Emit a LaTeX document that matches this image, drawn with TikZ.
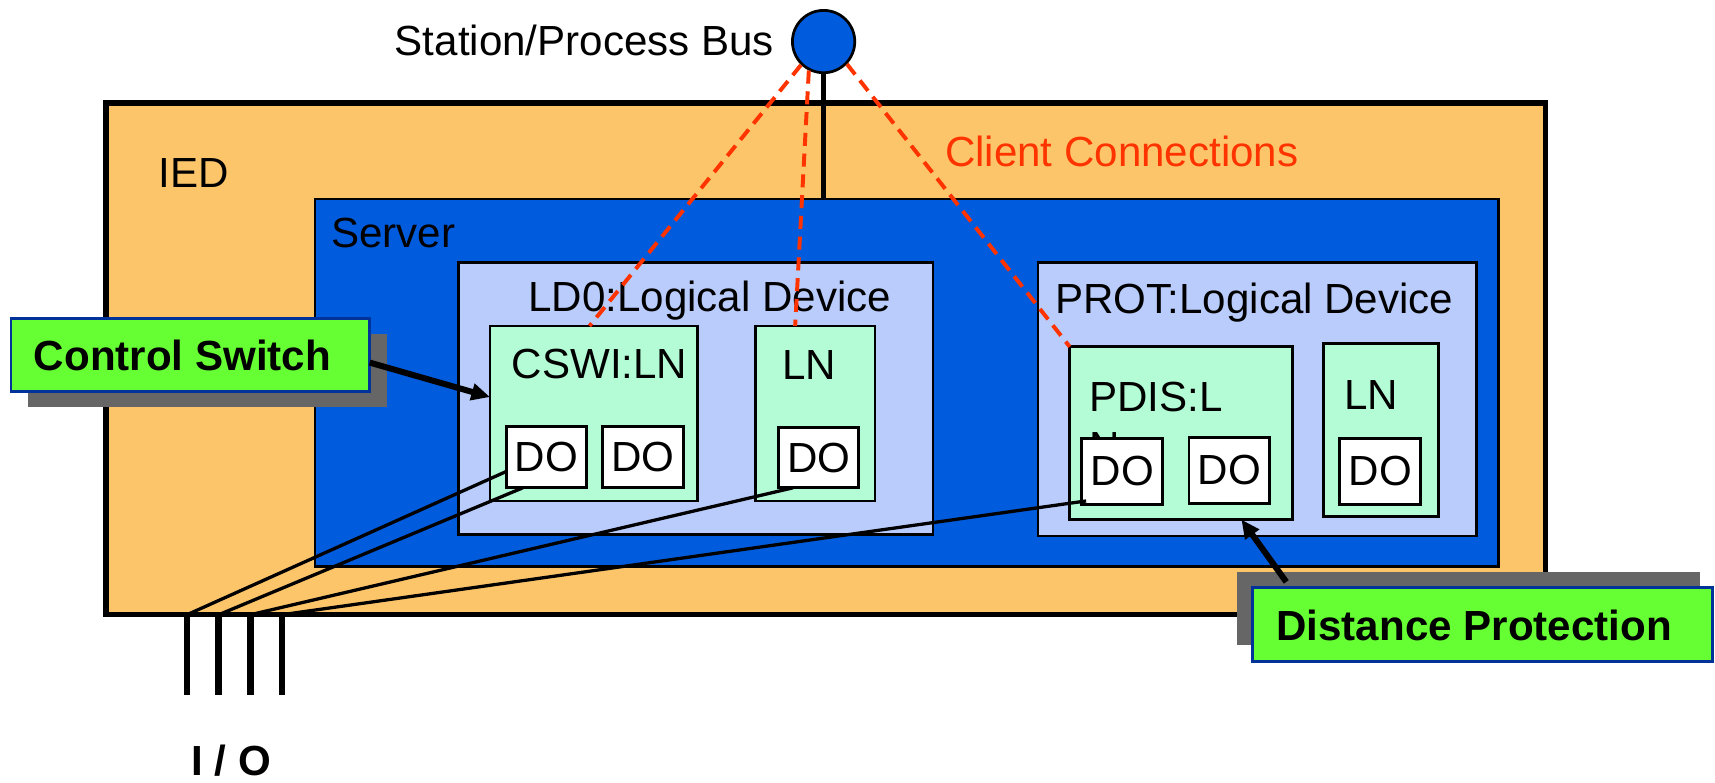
\documentclass[tikz,border=0pt]{standalone}
\usepackage{fontspec}
\setmainfont{Liberation Sans}
\usetikzlibrary{calc,arrows.meta}
\definecolor{iedfill}{RGB}{253,197,106}
\definecolor{srvblue}{RGB}{0,91,221}
\definecolor{ldfill}{RGB}{185,204,251}
\definecolor{lnfill}{RGB}{179,252,214}
\definecolor{callgreen}{RGB}{102,255,51}
\definecolor{callborder}{RGB}{0,51,153}
\definecolor{shadowgray}{RGB}{102,102,102}
\definecolor{clientred}{RGB}{255,51,0}
\begin{document}
\begin{tikzpicture}[x=1pt,y=-1pt,
  font=\fontsize{38.5}{46}\selectfont,
  box/.style={draw=black, line width=2.5pt, inner sep=0pt, outer sep=0pt, anchor=north west},
  iedbox/.style={box, fill=iedfill, line width=5pt},
  srvbox/.style={box, fill=srvblue},
  ldbox/.style={box, fill=ldfill},
  lnbox/.style={box, fill=lnfill},
  dobox/.style={box, fill=white},
  lbl/.style={anchor=base west, inner sep=0pt, outer sep=0pt},
  boldlbl/.style={lbl, font=\fontsize{38.5}{46}\selectfont\bfseries},
  callbox/.style={box, fill=callgreen, draw=callborder, line width=2.5pt},
  shadowbox/.style={box, fill=shadowgray, draw=none},
  pinline/.style={line width=6pt},
  wire/.style={line width=3pt},
  client/.style={draw=clientred, line width=3.6pt, dash pattern=on 12pt off 7pt},
  pointer/.style={line width=5.5pt, -{Triangle[length=17pt,width=15pt]}}
]
\useasboundingbox (0,0) rectangle (1568,715);

% IED
\node[iedbox, minimum width=1316pt, minimum height=468pt] (ied) at (97,94) {};
\node[lbl] (iedlbl) at (145,171) {IED};

% Server
\node[srvbox, minimum width=1082pt, minimum height=336pt] (srv) at (288,182) {};
\node[lbl] (srvlbl) at (303,226) {Server};

% LD0
\node[ldbox, minimum width=434pt, minimum height=249pt] (ld0) at (419,240) {};
\node[lbl] (ld0lbl) at (483,285) {LD0:Logical Device};
\node[lnbox, minimum width=190pt, minimum height=160pt] (cswi) at (448,298) {};
\node[lbl] (cswilbl) at (468,346) {CSWI:LN};
\node[dobox, minimum width=73pt, minimum height=56pt] (do1) at (463,390) {DO};
\node[dobox, minimum width=74pt, minimum height=56pt] (do2) at (551,390) {DO};
\node[lnbox, minimum width=109pt, minimum height=160pt] (ln1) at (691,298) {};
\node[lbl] (ln1lbl) at (715,347) {LN};
\node[dobox, minimum width=73pt, minimum height=55pt] (ldo) at (712,391) {DO};

% PROT
\node[ldbox, minimum width=401pt, minimum height=250pt] (prot) at (949,240) {};
\node[lbl] (protlbl) at (965,287) {PROT:Logical Device};
\node[lnbox, minimum width=204pt, minimum height=158pt] (pdis) at (978,317) {};
\node[lbl] (pdislbl) at (996,376) {PDIS:L};
\node[lbl] (pdislbl2) at (996,422) {N};
\node[dobox, minimum width=74pt, minimum height=60pt] (pdo1) at (989,401) {DO};
\node[dobox, minimum width=74pt, minimum height=60pt] (pdo2) at (1087,400) {DO};
\node[lnbox, minimum width=105pt, minimum height=158pt] (ln2) at (1210,314) {};
\node[lbl] (ln2lbl) at (1229,374) {LN};
\node[dobox, minimum width=74pt, minimum height=60pt] (ln2do) at (1225,401) {DO};

% bus
\node[circle, draw=black, line width=2.5pt, fill=srvblue, minimum size=57pt, inner sep=0pt] (bus) at (753,38) {};
\node[lbl] (buslbl) at (361,51) {Station/Process Bus};
\draw[line width=5pt] (bus.south) -- (bus.south |- srv.north);

% I/O pins
\coordinate (p1) at (171,562);
\coordinate (p2) at (200,562);
\coordinate (p3) at (229,562);
\coordinate (p4) at (258,562);
\foreach \p in {p1,p2,p3,p4} \draw[pinline] (\p) -- ++(0,73);
\node[boldlbl] (iolbl) at (175,709) {I / O};

% wires
\draw[wire] ($(do1.south west)+(0,-15)$) -- (p1);
\draw[wire] ($(do1.south west)+(15,0)$) -- (p2);
\draw[wire] ($(ldo.south west)+(13,0)$) -- (p3);
\draw[wire] ($(pdo1.south west)+(4,-3)$) -- (p4);

% client connections
\draw[client] (bus.226) -- ($(cswi.north west)+(91,0)$);
\draw[client] (bus.243) -- ($(ln1.north west)+(36,0)$);
\draw[client] (bus.316) -- (pdis.north west);
\node[lbl, text=clientred] (clbl) at (864,152) {Client Connections};

% callouts
\node[shadowbox, minimum width=328pt, minimum height=67pt] (cssh) at (26,305) {};
\node[callbox, minimum width=328pt, minimum height=67pt] (cs) at (10,291) {};
\node[boldlbl] (cslbl) at (31,339) {Control Switch};
\draw[pointer] ($(cs.east)+(0,7)$) -- ($(cswi.west)+(0,-15)$);

\node[shadowbox, minimum width=423pt, minimum height=67pt] (dpsh) at (1131,523) {};
\node[callbox, minimum width=421pt, minimum height=68pt] (dp) at (1145,537) {};
\node[boldlbl] (dplbl) at (1167,586) {Distance Protection};
\draw[pointer] ($(dp.north west)+(31,-5)$) -- ($(pdis.south west)+(157,0)$);
\end{tikzpicture}
\end{document}
